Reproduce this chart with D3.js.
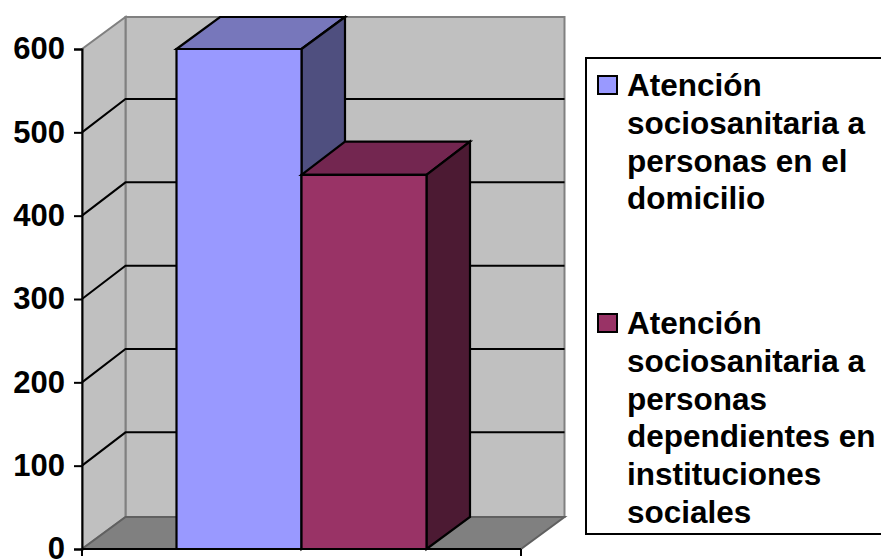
<!DOCTYPE html>
<html><head><meta charset="utf-8">
<script src="https://d3js.org/d3.v7.min.js"></script>
<style>html,body{margin:0;padding:0;background:#fff;overflow:hidden}svg{display:block}text{font-family:"Liberation Sans",Arial,sans-serif;font-weight:bold;fill:#000}</style>
</head><body><script>
const series = ["Atención sociosanitaria a personas en el domicilio","Atención sociosanitaria a personas dependientes en instituciones sociales"];
const values = [600, 449];
const ticks = [0,100,200,300,400,500,600];
const frontColors = ["#9999ff","#993366"];
const topColors = ["#7777bb","#732650"];
const sideColors = ["#4f4f7f","#4c1a33"];
const legendLines = [["Atención","sociosanitaria a","personas en el","domicilio"],["Atención","sociosanitaria a","personas","dependientes en","instituciones","sociales"]];

const W=881,H=559;
const svg=d3.select("body").append("svg").attr("width",W).attr("height",H);
const x0=82,x1=521,y0=549,y1=49,dx=43.5,dy=-32,gridDy=-33.3;
const y=d3.scaleLinear().domain([0,600]).range([y0,y1]);
const x=d3.scaleBand().domain(series).range([x0,x1]).paddingInner(0).paddingOuter(0.756);
const poly=(pts,f,s,w)=>svg.append("polygon").attr("points",pts.map(p=>p.join(",")).join(" ")).attr("fill",f).attr("stroke",s).attr("stroke-width",w).attr("stroke-linejoin","miter");
const G="#808080";
poly([[x0+dx,y0+dy],[x0+dx,y1+dy],[x1+dx,y1+dy],[x1+dx,y0+dy]],"#c0c0c0",G,2);
poly([[x0,y0],[x0,y1],[x0+dx,y1+dy],[x0+dx,y0+dy]],"#c0c0c0",G,2);
poly([[x0,y0],[x1,y0],[x1+dx,y0+dy],[x0+dx,y0+dy]],"#808080","#606060",2);
ticks.filter(t=>t>0&&t<600).forEach(t=>{
  svg.append("path").attr("fill","none").attr("stroke","#000").attr("stroke-width",2)
   .attr("d",d3.line()([[x0,y(t)],[x0+dx,y(t)+gridDy],[x1+dx,y(t)+gridDy]]));
});
series.forEach((s,i)=>{
  const a=x(s),b=a+x.bandwidth(),t=y(values[i]);
  const d=values[i]<600?gridDy:dy;
  poly([[a,t],[a+dx,t+d],[b+dx,t+d],[b,t]],topColors[i],"#000",2.2);
  poly([[b,t],[b+dx,t+d],[b+dx,y0+dy],[b,y0]],sideColors[i],"#000",2.2);
  poly([[a,y0],[a,t],[b,t],[b,y0]],frontColors[i],"#000",2.2);
});
const axisY=d3.axisLeft(y).tickValues(ticks).tickSize(8).tickPadding(9);
const gy=svg.append("g").attr("transform",`translate(${x0},0)`).call(axisY);
gy.selectAll("path,line").attr("stroke","#000").attr("stroke-width",2);
gy.selectAll("text").attr("font-size",31).style("font-family",'"Liberation Sans",Arial,sans-serif').style("font-weight","bold").attr("fill","#000");
svg.append("line").attr("x1",x0).attr("x2",x1).attr("y1",y0).attr("y2",y0).attr("stroke","#000").attr("stroke-width",2.2);
[x0,x1].forEach(v=>svg.append("line").attr("x1",v).attr("x2",v).attr("y1",y0).attr("y2",y0+7).attr("stroke","#000").attr("stroke-width",2));
svg.append("rect").attr("x",586).attr("y",58).attr("width",320).attr("height",476).attr("fill","#fff").attr("stroke","#000").attr("stroke-width",2);
const legendTops=[76,314];
series.forEach((s,i)=>{
  svg.append("rect").attr("x",598).attr("y",legendTops[i]).attr("width",19).attr("height",18).attr("fill",frontColors[i]).attr("stroke","#000").attr("stroke-width",2);
  legendLines[i].forEach((l,j)=>svg.append("text").attr("x",627).attr("y",legendTops[i]+20+j*37.8).attr("font-size",31.5).text(l));
});
</script></body></html>
